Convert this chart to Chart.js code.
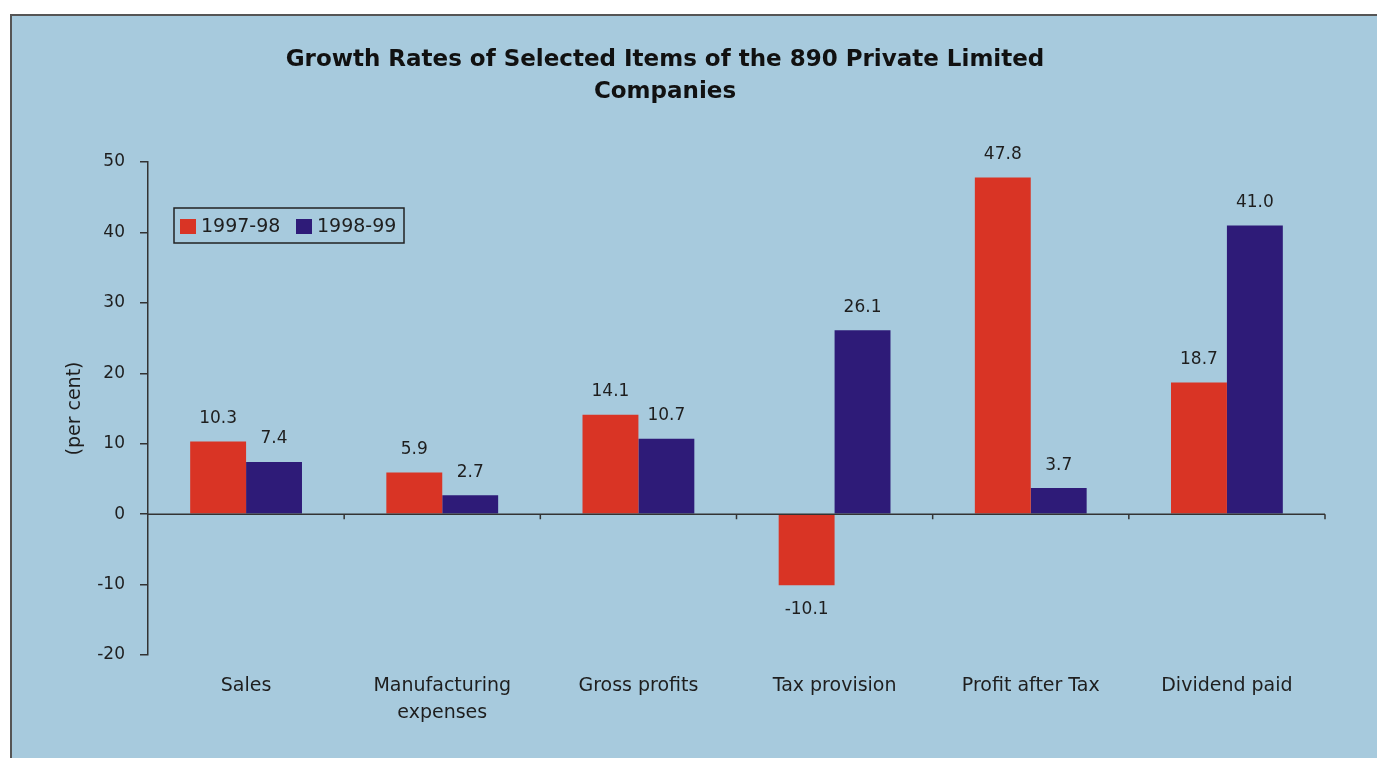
<!DOCTYPE html>
<html>
<head>
<meta charset="utf-8">
<script src="https://cdn.jsdelivr.net/npm/chart.js@4.4.1/dist/chart.umd.min.js"></script>
<style>
  html, body { margin: 0; padding: 0; background: #ffffff; }
  #wrap { width: 1377px; height: 758px; }
</style>
</head>
<body>
<div id="wrap"><canvas id="growthChart"></canvas></div>
<script>
// Datos del gráfico
const categories = ['Sales', ['Manufacturing', 'expenses'], 'Gross profits', 'Tax provision', 'Profit after Tax', 'Dividend paid'];
const seriesNames = ['1997-98', '1998-99'];
const values9798 = [10.3, 5.9, 14.1, -10.1, 47.8, 18.7];
const values9899 = [7.4, 2.7, 10.7, 26.1, 3.7, 41.0];
const yTicks = { min: -20, max: 50, step: 10 };
const titleLines = ['Growth Rates of Selected Items of the 890 Private Limited', 'Companies'];

const RED = '#d93425';
const BLUE = '#2e1b78';
const BG = '#a7cadd';
const INK = '#1e1e1e';
const FONT = '"DejaVu Sans", Verdana, sans-serif';

// Fondo, marco, título, leyenda, línea de cero y etiquetas de valores
const decorPlugin = {
    id: 'decor',
    beforeDraw(chart) {
        const ctx = chart.ctx;
        ctx.save();
        ctx.fillStyle = '#ffffff';
        ctx.fillRect(0, 0, chart.width, chart.height);
        ctx.fillStyle = BG;
        ctx.fillRect(10, 14, chart.width, chart.height);
        ctx.strokeStyle = '#555555';
        ctx.lineWidth = 2;
        ctx.beginPath();
        ctx.moveTo(11, chart.height + 5);
        ctx.lineTo(11, 15);
        ctx.lineTo(chart.width + 5, 15);
        ctx.stroke();
        ctx.restore();
    },
    afterDatasetsDraw(chart) {
        const ctx = chart.ctx;
        const x = chart.scales.x;
        const y = chart.scales.y;
        const zeroY = y.getPixelForValue(0);

        ctx.save();
        // línea de cero y marcas de categoría
        ctx.strokeStyle = '#333333';
        ctx.lineWidth = 1.5;
        ctx.beginPath();
        ctx.moveTo(x.left, zeroY);
        ctx.lineTo(x.right, zeroY);
        const catW = (x.right - x.left) / categories.length;
        for (let i = 1; i <= categories.length; i++) {
            const px = x.left + catW * i;
            ctx.moveTo(px, zeroY);
            ctx.lineTo(px, zeroY + 5);
        }
        ctx.stroke();

        // etiquetas de valores
        ctx.fillStyle = INK;
        ctx.font = '17px ' + FONT;
        ctx.textAlign = 'center';
        ctx.textBaseline = 'middle';
        chart.data.datasets.forEach((ds, di) => {
            const meta = chart.getDatasetMeta(di);
            meta.data.forEach((bar, i) => {
                const v = ds.data[i];
                const ty = v >= 0 ? bar.y - 23 : bar.y + 24;
                ctx.fillText(v.toFixed(1), bar.x, ty);
            });
        });

        // título
        ctx.font = 'bold 23px ' + FONT;
        ctx.fillStyle = '#111111';
        titleLines.forEach((line, i) => {
            ctx.fillText(line, 665, 60 + i * 32);
        });

        // leyenda
        ctx.strokeStyle = '#222222';
        ctx.lineWidth = 1.5;
        ctx.strokeRect(174, 208, 230, 35);
        ctx.font = '19px ' + FONT;
        ctx.textAlign = 'left';
        const legendX = [180, 296];
        chart.data.datasets.forEach((ds, di) => {
            ctx.fillStyle = ds.backgroundColor;
            ctx.fillRect(legendX[di], 219, 16, 15);
            ctx.fillStyle = INK;
            ctx.fillText(ds.label, legendX[di] + 21, 227);
        });
        ctx.restore();
    }
};

const ctx = document.getElementById('growthChart').getContext('2d');
new Chart(ctx, {
    type: 'bar',
    data: {
        labels: categories,
        datasets: [
            {
                label: seriesNames[0],
                data: values9798,
                backgroundColor: RED,
                categoryPercentage: 0.57,
                barPercentage: 1.0
            },
            {
                label: seriesNames[1],
                data: values9899,
                backgroundColor: BLUE,
                categoryPercentage: 0.57,
                barPercentage: 1.0
            }
        ]
    },
    options: {
        responsive: true,
        maintainAspectRatio: false,
        animation: false,
        devicePixelRatio: 1,
        layout: {
            padding: { left: 64, right: 52, top: 162, bottom: 0 }
        },
        plugins: {
            legend: { display: false },
            title: { display: false },
            tooltip: { enabled: false }
        },
        scales: {
            x: {
                grid: { display: false },
                border: { display: false },
                ticks: {
                    color: INK,
                    font: { family: FONT, size: 19, lineHeight: 1.4 },
                    padding: 10,
                    maxRotation: 0,
                    autoSkip: false
                },
                afterFit(scale) { scale.height = 103; }
            },
            y: {
                min: yTicks.min,
                max: yTicks.max,
                ticks: {
                    stepSize: yTicks.step,
                    color: INK,
                    font: { family: FONT, size: 17 },
                    padding: 15
                },
                grid: {
                    drawOnChartArea: false,
                    drawTicks: true,
                    tickLength: 8,
                    color: '#333333',
                    lineWidth: 1.5
                },
                border: { display: true, color: '#333333', width: 1.5 },
                title: {
                    display: true,
                    text: '(per cent)',
                    color: INK,
                    font: { family: FONT, size: 19 },
                    padding: 0
                },
                afterFit(scale) { scale.width = 84; }
            }
        }
    },
    plugins: [decorPlugin]
});
</script>
</body>
</html>
